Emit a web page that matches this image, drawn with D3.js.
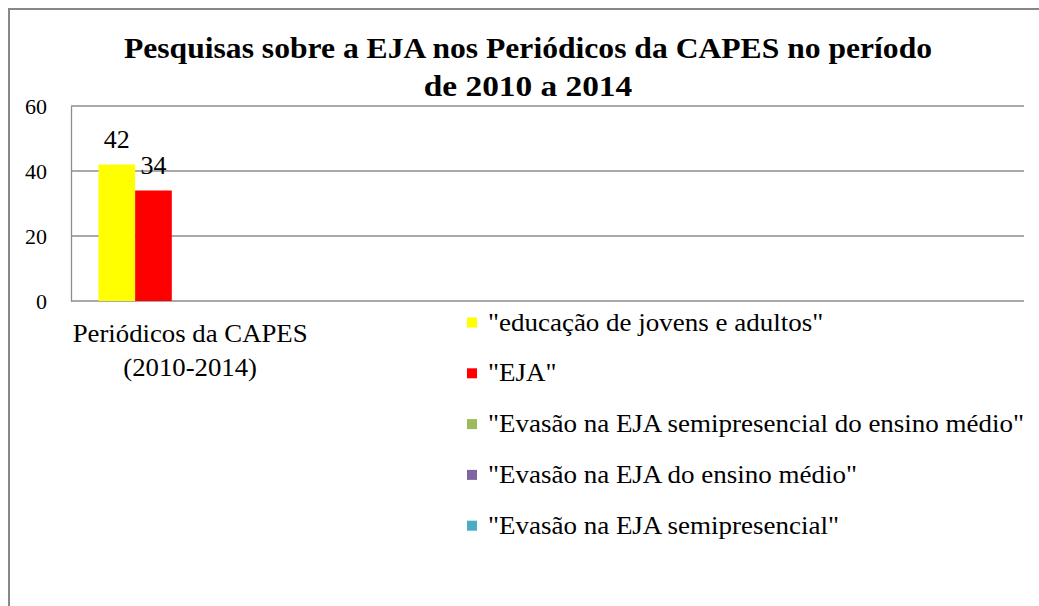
<!DOCTYPE html>
<html>
<head>
<meta charset="utf-8">
<script src="https://cdn.jsdelivr.net/npm/d3@7"></script>
</head>
<body style="margin:0; background:#fff">
<svg width="1039" height="606"></svg>
<script>
// data
var titleLines = ["Pesquisas sobre a EJA nos Periódicos da CAPES no período", "de 2010 a 2014"];
var categories = [["Periódicos da CAPES", "(2010-2014)"], [], [], []];   // 4 slots on the axis, only the first is used
var series = ['"educação de jovens e adultos"', '"EJA"', '"Evasão na EJA semipresencial do ensino médio"',
              '"Evasão na EJA do ensino médio"', '"Evasão na EJA semipresencial"'];
var colors = ["#ffff00", "#ff0000", "#9bbb59", "#8064a2", "#4bacc6"];
var values = [42, 34, null, null, null];   // Periódicos da CAPES
var yTicks = [0, 20, 40, 60];

var FONT = '"Liberation Serif"';

var svg = d3.select("svg"),
    width = +svg.attr("width"),
    height = +svg.attr("height");

var plot = {left: 71, right: 1024, top: 106, bottom: 301};

// the source picture is a bit wider than tall, stretch text horizontally
function place(x, y, sx) {
  return "translate(" + x + "," + y + ") scale(" + sx + ",1)";
}

// chart border (left + top visible, rest runs off the picture)
svg.append("rect")
    .attr("x", 9).attr("y", 9)
    .attr("width", width + 20).attr("height", height + 20)
    .attr("fill", "none").attr("stroke", "#878787").attr("stroke-width", 2);

// title
svg.append("g").selectAll("text")
    .data(titleLines)
  .enter().append("text")
    .attr("transform", function(d, i) { return place(528, 58 + i * 38, i ? 1.15 : 1.09); })
    .attr("text-anchor", "middle")
    .style("font-family", FONT)
    .style("font-size", "29px")
    .style("font-weight", "bold")
    .text(function(d) { return d; });

var y = d3.scaleLinear().domain([0, 60]).range([plot.bottom, plot.top]);

// gap width 150% => inner padding 1.5 / (5 + 1.5)
var gap = 1.5 / (series.length + 1.5);
var x0 = d3.scaleBand()
    .domain(d3.range(categories.length))
    .range([plot.left, plot.right])
    .paddingInner(gap)
    .paddingOuter(gap / 2);

var x1 = d3.scaleBand()
    .domain(d3.range(series.length))
    .range([0, x0.bandwidth()]);

// gridlines
svg.append("g").selectAll("line")
    .data(yTicks.filter(function(t) { return t > 0; }))
  .enter().append("line")
    .attr("x1", plot.left).attr("x2", plot.right)
    .attr("y1", function(d) { return y(d); })
    .attr("y2", function(d) { return y(d); })
    .attr("stroke", "#8c8c8c").attr("stroke-width", 1.3);

// y axis labels
var yAxis = svg.append("g")
    .attr("transform", "translate(" + plot.left + ",0)")
    .call(d3.axisLeft(y).tickValues(yTicks).tickSize(0).tickPadding(24));
yAxis.attr("font-family", "Liberation Serif");
yAxis.select(".domain").attr("stroke", "#8c8c8c").attr("stroke-width", 1.3);
yAxis.selectAll("text")
    .style("font-family", FONT)
    .style("font-size", "22px")
    .attr("fill", "#000");

// x axis line
svg.append("line")
    .attr("x1", plot.left).attr("x2", plot.right)
    .attr("y1", y(0)).attr("y2", y(0))
    .attr("stroke", "#8c8c8c").attr("stroke-width", 1.3);

// bars
var bars = values.map(function(v, i) { return {s: i, v: v}; })
    .filter(function(d) { return d.v != null; });

var g = svg.append("g").attr("transform", "translate(" + x0(0) + ",0)");

g.selectAll("rect")
    .data(bars)
  .enter().append("rect")
    .attr("x", function(d) { return x1(d.s); })
    .attr("width", x1.bandwidth())
    .attr("y", function(d) { return y(d.v); })
    .attr("height", function(d) { return y(0) - y(d.v); })
    .attr("fill", function(d) { return colors[d.s]; });

g.selectAll(".lbl")
    .data(bars)
  .enter().append("text")
    .attr("class", "lbl")
    .attr("x", function(d) { return x1(d.s) + x1.bandwidth() / 2; })
    .attr("y", function(d) { return y(d.v) - 17; })
    .attr("text-anchor", "middle")
    .style("font-family", FONT)
    .style("font-size", "26px")
    .text(function(d) { return d.v; });

// category labels
categories.forEach(function(lines, c) {
  svg.append("g").selectAll("text")
      .data(lines)
    .enter().append("text")
      .attr("transform", function(d, i) { return place(x0(c) + x0.bandwidth() / 2, 342 + i * 34, 1.03); })
      .attr("text-anchor", "middle")
      .style("font-family", FONT)
      .style("font-size", "26px")
      .text(function(d) { return d; });
});

// legend
var legend = svg.append("g").selectAll("g")
    .data(series)
  .enter().append("g")
    .attr("transform", function(d, i) { return "translate(470," + (322.5 + i * 50.8) + ")"; });

legend.append("rect")
    .attr("x", -3).attr("y", -5)
    .attr("width", 10).attr("height", 10)
    .attr("fill", function(d, i) { return colors[i]; });

legend.append("text")
    .attr("transform", place(18, 8, 1.08))
    .style("font-family", FONT)
    .style("font-size", "25px")
    .text(function(d) { return d; });
</script>
</body>
</html>
